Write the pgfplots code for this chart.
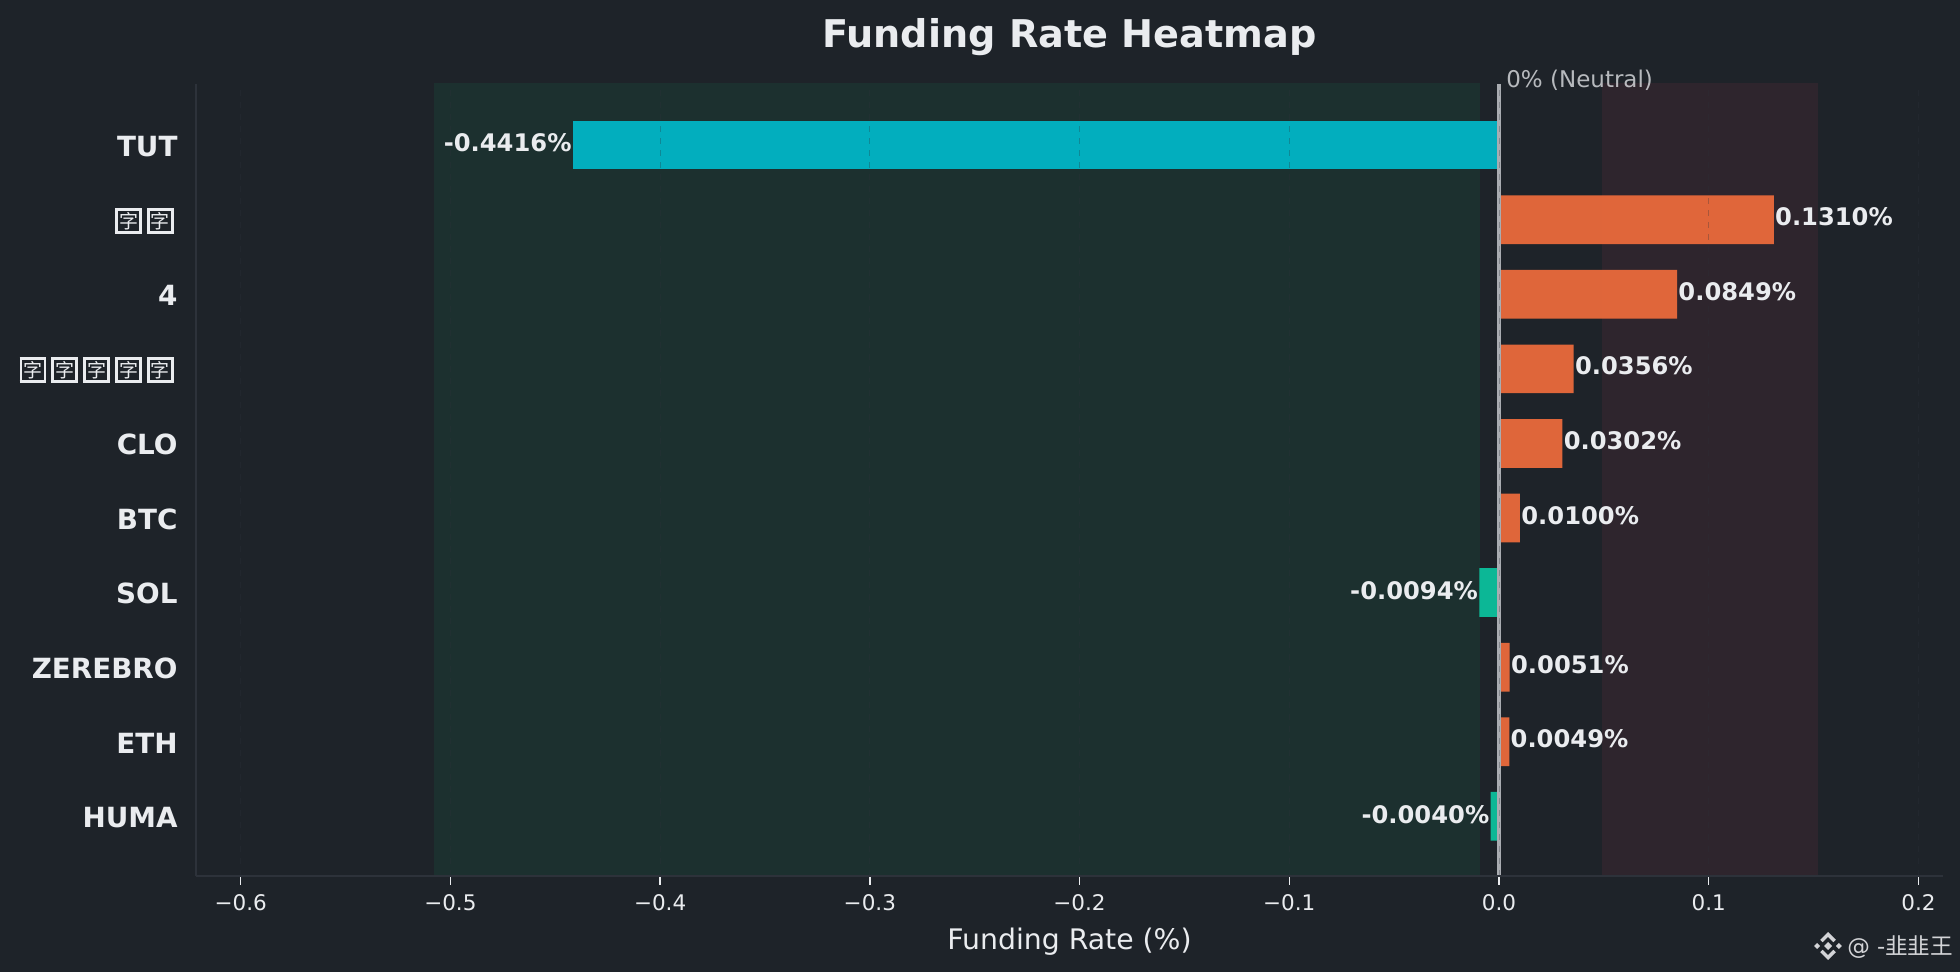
\documentclass[border=0pt]{standalone}
\usepackage{fontspec}
\usepackage{pgfplots}
\pgfplotsset{compat=1.18}
\setmainfont{DejaVu Sans}
\newfontfamily\cjk{Noto Sans CJK SC}

\definecolor{bg}{HTML}{1E2329}
\definecolor{spine}{HTML}{2D323A}
\definecolor{txt}{HTML}{EAECEF}
\definecolor{pos}{HTML}{F46E3C}
\definecolor{neg}{HTML}{0BC8A2}
\definecolor{big}{HTML}{00BCCE}
\definecolor{bandg}{HTML}{0ECB81}
\definecolor{bandr}{HTML}{F6465D}
\definecolor{zero}{HTML}{A9ACB1}

% missing-glyph box as the reference shows it
\newcommand{\tofu}{\raisebox{-0.5pt}{\setlength{\fboxsep}{0.6pt}\setlength{\fboxrule}{1.3pt}\fbox{\cjk\mdseries\fontsize{9.5}{10}\selectfont 字}}}
\newcommand{\tofugap}{\hspace{2.65pt}}

\begin{document}
\begin{tikzpicture}[x=1pt,y=1pt]
\fill[bg] (0,0) rectangle (980,486);
\useasboundingbox (0,0) rectangle (980,486);
\begin{axis}[
    at={(98pt,48pt)}, anchor=south west,
    scale only axis,
    width=873.5pt, height=396pt,
    xmin=-0.6213, xmax=0.2117,
    ymin=-0.80, ymax=9.82,
    axis on top,
    clip=false,
    axis x line*=bottom, axis y line*=left,
    axis line style={draw=spine, line width=1pt, -},
    xtick={-0.6,-0.5,-0.4,-0.3,-0.2,-0.1,0,0.1,0.2},
    xticklabels={−0.6,−0.5,−0.4,−0.3,−0.2,−0.1,0.0,0.1,0.2},
    ytick={0,1,2,3,4,5,6,7,8,9},
    yticklabels={HUMA,ETH,ZEREBRO,SOL,BTC,CLO,\tofu\tofugap\tofu\tofugap\tofu\tofugap\tofu\tofugap\tofu\kern1.9pt,4,\tofu\tofugap\tofu\kern1.9pt,TUT},
    tick align=outside,
    major tick length=4.5pt,
    x tick style={draw=txt, line width=0.75pt},
    y tick style={draw=none},
    xticklabel style={font=\fontsize{10.75}{12}\selectfont, text=txt, yshift=-1pt},
    yticklabel style={font=\fontsize{13.9}{15}\bfseries\selectfont, text=txt, xshift=-1.2pt, yshift=-0.6pt},
    xmajorgrids=true,
    x grid style={dashed, draw=spine, line width=0.5pt, opacity=0.3},
    xlabel={Funding Rate (\%)},
    xlabel style={font=\fontsize{14.15}{16}\selectfont, text=txt, yshift=-1.9pt},
    title={Funding Rate Heatmap},
    title style={font=\fontsize{19.1}{21}\bfseries\selectfont, text=txt, yshift=4.5pt},
    point meta=explicit symbolic,
]
% shaded ranges
\addplot[fill=bandg, draw=bandg, fill opacity=0.08, draw opacity=0.08, line width=0.5pt]
    coordinates {(-0.5074,-0.80) (-0.0095,-0.80) (-0.0095,9.82) (-0.5074,9.82)} --cycle;
\addplot[fill=bandr, draw=bandr, fill opacity=0.08, draw opacity=0.08, line width=0.5pt]
    coordinates {(0.0494,-0.80) (0.1517,-0.80) (0.1517,9.82) (0.0494,9.82)} --cycle;
% bars
\addplot[xbar, bar shift=0pt, bar width=24.35pt, fill=big, draw=none, fill opacity=0.9,
    nodes near coords, every node near coord/.style={anchor=east, inner sep=0.5pt, yshift=1pt, text=txt, font=\fontsize{12.1}{14}\bfseries\selectfont, text opacity=1}]
    coordinates {(-0.4416,9)[-0.4416\%]};
\addplot[xbar, bar shift=0pt, bar width=24.35pt, fill=neg, draw=none, fill opacity=0.9,
    nodes near coords, every node near coord/.style={anchor=east, inner sep=0.5pt, yshift=1pt, text=txt, font=\fontsize{12.1}{14}\bfseries\selectfont, text opacity=1}]
    coordinates {(-0.0094,3)[-0.0094\%] (-0.0040,0)[-0.0040\%]};
\addplot[xbar, bar shift=0pt, bar width=24.35pt, fill=pos, draw=none, fill opacity=0.9,
    nodes near coords, every node near coord/.style={anchor=west, inner sep=0.5pt, yshift=1.4pt, text=txt, font=\fontsize{12.1}{14}\bfseries\selectfont, text opacity=1}]
    coordinates {(0.1310,8)[0.1310\%] (0.0849,7)[0.0849\%] (0.0356,6)[0.0356\%] (0.0302,5)[0.0302\%]
                 (0.0100,4)[0.0100\%] (0.0051,2)[0.0051\%] (0.0049,1)[0.0049\%]};
% zero line
\addplot[zero, solid, line width=1.6pt, opacity=1] coordinates {(0,-0.80) (0,9.82)};
\node[anchor=base west, inner sep=0pt, yshift=-1.7pt, text=txt, text opacity=0.75, font=\fontsize{11.5}{13}\selectfont]
    at (axis cs:0.0033,9.82) {0\% (Neutral)};
\end{axis}
% watermark
\begin{scope}[shift={(914,13)}, fill=txt!90!black]
\fill (0,2) -- (2,0) -- (0,-2) -- (-2,0) -- cycle;
\fill (-5.4,1.5) -- (-3.9,0) -- (-5.4,-1.5) -- (-6.9,0) -- cycle;
\fill (5.4,1.5) -- (6.9,0) -- (5.4,-1.5) -- (3.9,0) -- cycle;
\fill (0,7) -- (3.9,3.1) -- (2.7,1.9) -- (0,4.6) -- (-2.7,1.9) -- (-3.9,3.1) -- cycle;
\fill (0,-7) -- (3.9,-3.1) -- (2.7,-1.9) -- (0,-4.6) -- (-2.7,-1.9) -- (-3.9,-3.1) -- cycle;
\end{scope}
\node[anchor=west, inner sep=0pt, text=txt!90!black, font=\fontsize{11.3}{12}\selectfont] at (923.5,12.6) {@ -{\cjk 韭韭王}};
\end{tikzpicture}
\end{document}
